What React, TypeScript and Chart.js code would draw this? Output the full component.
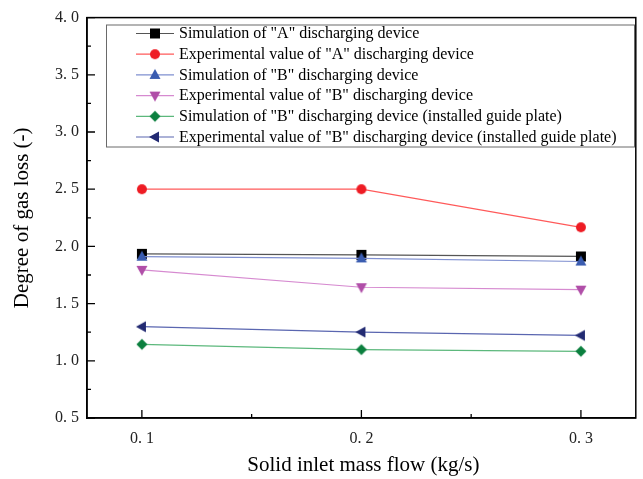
import React, { useEffect, useRef } from 'react';
import { Chart, registerables } from 'chart.js';

Chart.register(...registerables);

// ---- data ----
const massFlow = [0.1, 0.2, 0.3];
const simA = [1.935, 1.926, 1.912];
const expA = [2.5, 2.5, 2.167];
const simB = [1.91, 1.895, 1.868];
const expB = [1.795, 1.643, 1.622];
const simBGuide = [1.144, 1.098, 1.083];
const expBGuide = [1.298, 1.251, 1.222];

const seriesLabels = [
  'Simulation of "A" discharging device',
  'Experimental value of "A" discharging device',
  'Simulation of "B" discharging device',
  'Experimental value of "B" discharging device',
  'Simulation of "B" discharging device (installed guide plate)',
  'Experimental value of "B" discharging device (installed guide plate)',
];
const xTickValues = [0.1, 0.2, 0.3];
const xMinorTicks = [0.15, 0.25];
const yTickValues = [0.5, 1.0, 1.5, 2.0, 2.5, 3.0, 3.5, 4.0];
const yMinorTicks = [0.75, 1.25, 1.75, 2.25, 2.75, 3.25, 3.75];
const xTitle = 'Solid inlet mass flow (kg/s)';
const yTitle = 'Degree of gas loss (-)';

const SERIF = '"Liberation Serif", "Times New Roman", serif';

type Shape = 'square' | 'circle' | 'up' | 'down' | 'diamond' | 'left';

function makeMarker(shape: Shape, color: string): HTMLCanvasElement {
  const c = document.createElement('canvas');
  c.width = 14;
  c.height = 14;
  const g = c.getContext('2d')!;
  g.fillStyle = color;
  g.beginPath();
  const cx = 7, cy = 7;
  if (shape === 'square') {
    g.rect(cx - 5, cy - 5, 10, 10);
  } else if (shape === 'circle') {
    g.arc(cx, cy, 5, 0, Math.PI * 2);
  } else if (shape === 'up') {
    g.moveTo(cx, cy - 6);
    g.lineTo(cx + 5.5, cy + 4);
    g.lineTo(cx - 5.5, cy + 4);
    g.closePath();
  } else if (shape === 'down') {
    g.moveTo(cx, cy + 6);
    g.lineTo(cx + 5.5, cy - 4);
    g.lineTo(cx - 5.5, cy - 4);
    g.closePath();
  } else if (shape === 'diamond') {
    g.moveTo(cx, cy - 5.5);
    g.lineTo(cx + 5.5, cy);
    g.lineTo(cx, cy + 5.5);
    g.lineTo(cx - 5.5, cy);
    g.closePath();
  } else if (shape === 'left') {
    g.moveTo(cx - 6, cy);
    g.lineTo(cx + 4, cy - 5.5);
    g.lineTo(cx + 4, cy + 5.5);
    g.closePath();
  }
  g.fill();
  return c;
}

const seriesValues = [simA, expA, simB, expB, simBGuide, expBGuide];
const markerColors = ['#000000', '#ee1c24', '#3a5cb0', '#b04ea8', '#0b7f3e', '#222a72'];
const lineColors = ['#555555', '#ff5a5a', '#7f8fd0', '#d68ad0', '#5cb87c', '#5a66b0'];
const shapes: Shape[] = ['square', 'circle', 'up', 'down', 'diamond', 'left'];

const framePlugin = {
  id: 'framePlugin',
  afterDraw(chart: any) {
    const { ctx, chartArea: a, scales } = chart;
    ctx.save();
    // box
    ctx.strokeStyle = '#000';
    ctx.lineWidth = 1.5;
    ctx.strokeRect(a.left, a.top, a.right - a.left, a.bottom - a.top);
    // inward ticks
    ctx.beginPath();
    ctx.lineWidth = 1.3;
    yTickValues.forEach((v) => {
      const p = scales.y.getPixelForValue(v);
      ctx.moveTo(a.left, p);
      ctx.lineTo(a.left + 8, p);
    });
    yMinorTicks.forEach((v) => {
      const p = scales.y.getPixelForValue(v);
      ctx.moveTo(a.left, p);
      ctx.lineTo(a.left + 4, p);
    });
    xTickValues.forEach((v) => {
      const p = scales.x.getPixelForValue(v);
      ctx.moveTo(p, a.bottom);
      ctx.lineTo(p, a.bottom - 8);
    });
    xMinorTicks.forEach((v) => {
      const p = scales.x.getPixelForValue(v);
      ctx.moveTo(p, a.bottom);
      ctx.lineTo(p, a.bottom - 4);
    });
    ctx.stroke();

    // axis titles
    ctx.fillStyle = '#000';
    ctx.font = `21px ${SERIF}`;
    ctx.textAlign = 'center';
    ctx.textBaseline = 'middle';
    ctx.fillText(xTitle, (a.left + a.right) / 2 + 2, 465);
    ctx.save();
    ctx.translate(22, (a.top + a.bottom) / 2);
    ctx.rotate(-Math.PI / 2);
    ctx.fillText(yTitle, 0, 0);
    ctx.restore();

    // legend
    const lx = 106, ly = 24.5, lw = 528, lh = 122;
    ctx.strokeStyle = '#6a6a6a';
    ctx.lineWidth = 1;
    ctx.strokeRect(lx + 0.5, ly + 0.5, lw, lh);
    ctx.font = `16px ${SERIF}`;
    ctx.textAlign = 'left';
    ctx.textBaseline = 'middle';
    chart.data.datasets.forEach((ds: any, i: number) => {
      const y = 33.5 + i * 20.7;
      ctx.beginPath();
      ctx.strokeStyle = ds.borderColor;
      ctx.lineWidth = 1.2;
      ctx.moveTo(136, y);
      ctx.lineTo(174, y);
      ctx.stroke();
      const img = ds.pointStyle as HTMLCanvasElement;
      ctx.drawImage(img, 155 - img.width / 2, y - img.height / 2);
      ctx.fillStyle = '#000';
      ctx.fillText(ds.label, 179, y + 0.5);
    });
    ctx.restore();
  },
};

export default function App() {
  const ref = useRef<HTMLCanvasElement | null>(null);

  useEffect(() => {
    if (!ref.current) return;
    const datasets = seriesValues.map((vals, i) => ({
      label: seriesLabels[i],
      data: massFlow.map((x, j) => ({ x, y: vals[j] })),
      borderColor: lineColors[i],
      borderWidth: 1.2,
      pointStyle: makeMarker(shapes[i], markerColors[i]),
      pointRadius: 6,
      pointHoverRadius: 6,
      fill: false,
      tension: 0,
      order: 6 - i,
    }));

    const chart = new Chart(ref.current, {
      type: 'line',
      data: { datasets },
      options: {
        responsive: false,
        animation: false,
        layout: { padding: { left: 0, top: 14, right: 4, bottom: 0 } },
        plugins: { legend: { display: false }, tooltip: { enabled: false } },
        scales: {
          x: {
            type: 'linear',
            min: 0.075,
            max: 0.325,
            grid: { display: false, drawTicks: false },
            border: { display: true, color: '#000', width: 1.5 },
            afterBuildTicks: (s: any) => {
              s.ticks = xTickValues.map((v) => ({ value: v }));
            },
            afterFit: (s: any) => {
              s.height = 61;
            },
            ticks: {
              padding: 11,
              color: '#222',
              font: { family: SERIF, size: 16 },
              callback: (v: any) => Number(v).toFixed(1).replace('.', '. '),
            },
          },
          y: {
            type: 'linear',
            min: 0.5,
            max: 4.0,
            grid: { display: false, drawTicks: false },
            border: { display: true, color: '#000', width: 1.5 },
            afterBuildTicks: (s: any) => {
              s.ticks = yTickValues.map((v) => ({ value: v }));
            },
            afterFit: (s: any) => {
              s.width = 87;
            },
            ticks: {
              padding: 8,
              color: '#222',
              font: { family: SERIF, size: 16 },
              callback: (v: any) => Number(v).toFixed(1).replace('.', '. '),
            },
          },
        },
      },
      plugins: [framePlugin],
    });
    return () => chart.destroy();
  }, []);

  return (
    <div style={{ position: 'absolute', left: 0, top: 0, width: 643, height: 479, background: '#fff' }}>
      <canvas ref={ref} width={643} height={479} style={{ display: 'block' }} />
    </div>
  );
}
